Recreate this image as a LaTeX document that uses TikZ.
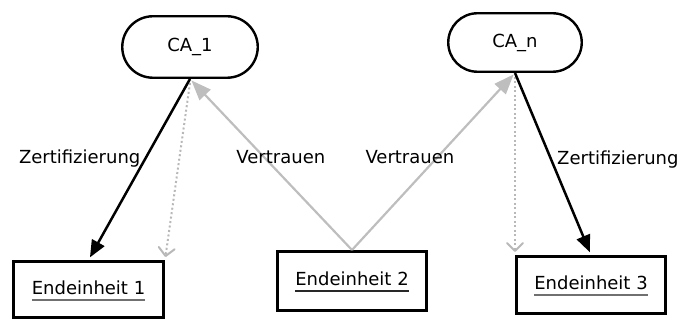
\documentclass[tikz,border=0pt]{standalone}
\usepackage{fontspec}
\setmainfont{DejaVu Sans}
\usetikzlibrary{arrows.meta,shapes.misc}
\definecolor{trustgray}{HTML}{BEBEBE}
\definecolor{dotgray}{HTML}{B8B8B8}
\definecolor{ulgray}{HTML}{707070}
\definecolor{uldark}{HTML}{282828}
% text with a coloured underline bar below it
\newcommand\colorul[2]{\setbox0=\hbox{#2}\vtop{\offinterlineskip\copy0\kern4pt\hbox{\color{#1}\rule{\wd0}{2pt}}}}
\begin{document}
\begin{tikzpicture}[x=1pt,y=-1pt,
  font=\fontsize{18}{21}\selectfont,
  ca/.style={rounded rectangle, draw, line width=2.4pt, inner sep=0pt},
  unit/.style={rectangle, draw, line width=3pt, inner sep=0pt,
    text height=13pt, text depth=3pt},
  cert/.style={line width=2.5pt, shorten >=3pt,
    -{Triangle[length=17pt,width=14pt]}},
  trust/.style={trustgray, line width=2.2pt, shorten >=2pt,
    -{Triangle[length=20pt,width=15pt]}},
  copyarrow/.style={dotgray, line width=2pt, dash pattern=on 2pt off 2.5pt,
    shorten >=3pt, -{Straight Barb[length=8pt,width=16pt,line width=2pt,round,sep=0pt]}},
  lbl/.style={inner sep=0pt, text=black}]
\useasboundingbox (0,0) rectangle (685,320);

% certification authorities
\node[ca, minimum width=135.5pt, minimum height=61.5pt] (ca1) at (190,47) {CA\_1};
\node[ca, minimum width=133.5pt, minimum height=58.5pt] (can) at (515,42.5) {CA\_n};

% end entities
\node[unit, minimum width=150pt, minimum height=56pt] (e1) at (88.5,289.5)
  {\colorul{ulgray}{Endeinheit 1}};
\node[unit, minimum width=149pt, minimum height=59pt] (e2) at (352,281)
  {\colorul{uldark}{Endeinheit 2}};
\node[unit, minimum width=149pt, minimum height=57pt] (e3) at (591,285)
  {\colorul{ulgray}{Endeinheit 3}};

% trust relations from the middle entity
\draw[trust] (e2.north) -- (ca1.south)
  node[lbl, pos=.544, xshift=17pt] {Vertrauen};
\draw[trust] (e2.north) -- (can.south)
  node[lbl, pos=.527, xshift=-28pt] {Vertrauen};

% indirect (dotted) relations
\draw[copyarrow] ([yshift=-4pt]ca1.south) -- (e1.north east);
\draw[copyarrow] ([yshift=-4pt]can.south) -- (e3.north west);

% certification
\draw[cert] (ca1.south) -- (e1.north)
  node[lbl, pos=.437, anchor=east, xshift=-4pt] {Zertifizierung};
\draw[cert] (can.south) -- (e3.north)
  node[lbl, pos=.473, anchor=west, xshift=5pt] {Zertifizierung};
\end{tikzpicture}
\end{document}
